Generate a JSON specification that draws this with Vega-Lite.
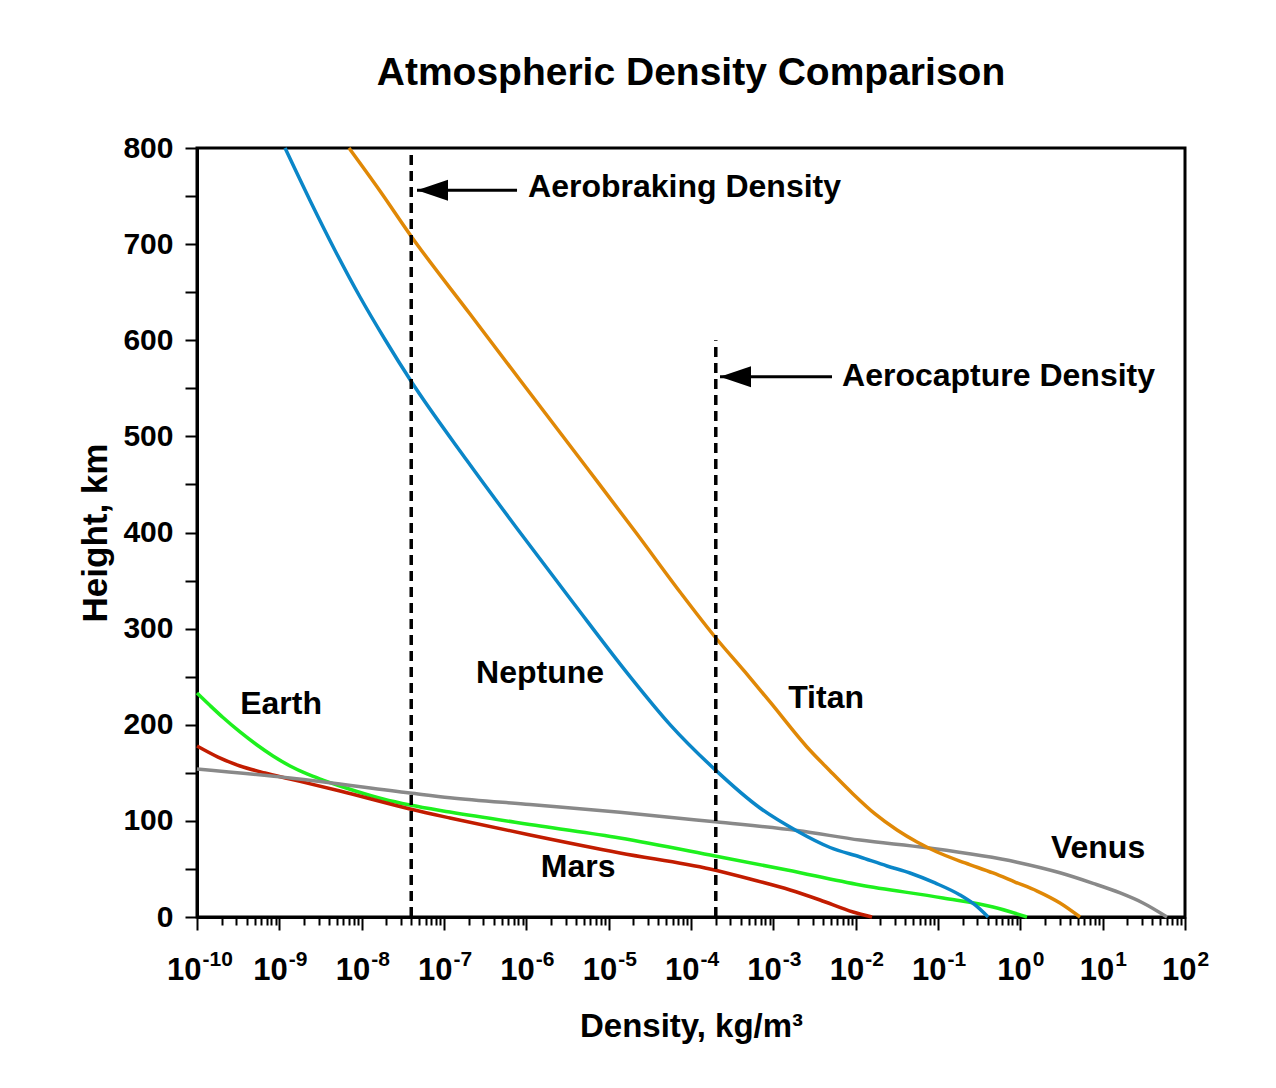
{
  "$schema": "https://vega.github.io/schema/vega-lite/v6.json",
  "width": 988,
  "height": 769,
  "autosize": {"type": "none"},
  "padding": {"left": 197, "top": 148, "right": 91, "bottom": 171},
  "background": "white",
  "config": {
    "font": "Liberation Sans",
    "view": {"stroke": "black", "strokeWidth": 3},
    "axis": {"grid": false, "domainColor": "black", "domainWidth": 3, "tickColor": "black", "tickWidth": 2, "labelFont": "Liberation Sans", "labelFontWeight": "bold", "labelColor": "black", "titleFont": "Liberation Sans", "titleFontWeight": "bold", "titleColor": "black"}
  },
  "title": {"text": "Atmospheric Density Comparison", "fontSize": 39, "font": "Liberation Sans", "fontWeight": "bold", "color": "black", "offset": 40, "anchor": "middle"},
  "resolve": {"axis": {"x": "independent"}},
  "datasets": {
    "curves": [
      {"planet": "Earth", "density": 1.0e-10, "height": 233},
      {"planet": "Earth", "density": 1.44e-10, "height": 220},
      {"planet": "Earth", "density": 2.07e-10, "height": 207.5},
      {"planet": "Earth", "density": 3.33e-10, "height": 192.5},
      {"planet": "Earth", "density": 5.36e-10, "height": 178.9},
      {"planet": "Earth", "density": 8.38e-10, "height": 167.5},
      {"planet": "Earth", "density": 1.35e-9, "height": 157.1},
      {"planet": "Earth", "density": 2.17e-9, "height": 148.8},
      {"planet": "Earth", "density": 3.39e-9, "height": 142.5},
      {"planet": "Earth", "density": 5.46e-9, "height": 136.3},
      {"planet": "Earth", "density": 8.77e-9, "height": 130.6},
      {"planet": "Earth", "density": 1.82e-8, "height": 122.8},
      {"planet": "Earth", "density": 3.86e-8, "height": 116.5},
      {"planet": "Earth", "density": 1.18e-7, "height": 109.2},
      {"planet": "Earth", "density": 1.47e-6, "height": 94.7},
      {"planet": "Earth", "density": 1.37e-5, "height": 82.2},
      {"planet": "Earth", "density": 1.96e-4, "height": 63.5},
      {"planet": "Earth", "density": 1.47e-3, "height": 48.9},
      {"planet": "Earth", "density": 1.13e-2, "height": 33.3},
      {"planet": "Earth", "density": 0.115, "height": 19.8},
      {"planet": "Earth", "density": 0.466, "height": 10.4},
      {"planet": "Earth", "density": 1.205, "height": 0},
      {"planet": "Mars", "density": 1.0e-10, "height": 177.9},
      {"planet": "Mars", "density": 1.80e-10, "height": 166.4},
      {"planet": "Mars", "density": 3.33e-10, "height": 157.1},
      {"planet": "Mars", "density": 6.70e-10, "height": 149.8},
      {"planet": "Mars", "density": 1.35e-9, "height": 143.6},
      {"planet": "Mars", "density": 5.46e-9, "height": 131.1},
      {"planet": "Mars", "density": 3.86e-8, "height": 112.4},
      {"planet": "Mars", "density": 1.18e-7, "height": 103},
      {"planet": "Mars", "density": 1.11e-6, "height": 85.3},
      {"planet": "Mars", "density": 1.37e-5, "height": 66.6},
      {"planet": "Mars", "density": 1.70e-4, "height": 49.9},
      {"planet": "Mars", "density": 5.21e-4, "height": 39.5},
      {"planet": "Mars", "density": 1.60e-3, "height": 28.1},
      {"planet": "Mars", "density": 3.69e-3, "height": 17.7},
      {"planet": "Mars", "density": 9.29e-3, "height": 5.2},
      {"planet": "Mars", "density": 1.58e-2, "height": 0},
      {"planet": "Venus", "density": 1.0e-10, "height": 154},
      {"planet": "Venus", "density": 1.35e-9, "height": 144.6},
      {"planet": "Venus", "density": 3.86e-8, "height": 129},
      {"planet": "Venus", "density": 1.18e-7, "height": 124},
      {"planet": "Venus", "density": 1.11e-6, "height": 117},
      {"planet": "Venus", "density": 1.37e-5, "height": 109},
      {"planet": "Venus", "density": 1.96e-4, "height": 99},
      {"planet": "Venus", "density": 1.95e-3, "height": 90},
      {"planet": "Venus", "density": 1.13e-2, "height": 80},
      {"planet": "Venus", "density": 7.36e-2, "height": 72},
      {"planet": "Venus", "density": 0.912, "height": 57},
      {"planet": "Venus", "density": 3.03, "height": 46},
      {"planet": "Venus", "density": 7.64, "height": 35},
      {"planet": "Venus", "density": 16.3, "height": 25},
      {"planet": "Venus", "density": 30.9, "height": 14.6},
      {"planet": "Venus", "density": 60.5, "height": 0},
      {"planet": "Neptune", "density": 1.172e-9, "height": 800},
      {"planet": "Neptune", "density": 2.36e-9, "height": 745.4},
      {"planet": "Neptune", "density": 4.75e-9, "height": 693.4},
      {"planet": "Neptune", "density": 9.55e-9, "height": 645},
      {"planet": "Neptune", "density": 1.92e-8, "height": 600.8},
      {"planet": "Neptune", "density": 3.97e-8, "height": 557.6},
      {"planet": "Neptune", "density": 1.90e-7, "height": 474.9},
      {"planet": "Neptune", "density": 7.71e-7, "height": 404.2},
      {"planet": "Neptune", "density": 3.69e-6, "height": 327.2},
      {"planet": "Neptune", "density": 1.82e-5, "height": 250.1},
      {"planet": "Neptune", "density": 5.56e-5, "height": 200.2},
      {"planet": "Neptune", "density": 1.96e-4, "height": 153.3},
      {"planet": "Neptune", "density": 6.89e-4, "height": 113.4},
      {"planet": "Neptune", "density": 1.94e-3, "height": 89.5},
      {"planet": "Neptune", "density": 4.89e-3, "height": 72.3},
      {"planet": "Neptune", "density": 1.13e-2, "height": 62.4},
      {"planet": "Neptune", "density": 2.40e-2, "height": 53.1},
      {"planet": "Neptune", "density": 4.57e-2, "height": 45.8},
      {"planet": "Neptune", "density": 9.21e-2, "height": 35.4},
      {"planet": "Neptune", "density": 0.185, "height": 22.9},
      {"planet": "Neptune", "density": 0.282, "height": 12.5},
      {"planet": "Neptune", "density": 0.406, "height": 0},
      {"planet": "Titan", "density": 7.01e-9, "height": 800},
      {"planet": "Titan", "density": 1.67e-8, "height": 755.3},
      {"planet": "Titan", "density": 3.97e-8, "height": 708.5},
      {"planet": "Titan", "density": 2.07e-7, "height": 627.3},
      {"planet": "Titan", "density": 8.38e-7, "height": 558.6},
      {"planet": "Titan", "density": 5.46e-6, "height": 467.1},
      {"planet": "Titan", "density": 2.21e-5, "height": 398.4},
      {"planet": "Titan", "density": 7.36e-5, "height": 338.1},
      {"planet": "Titan", "density": 1.96e-4, "height": 291.3},
      {"planet": "Titan", "density": 4.53e-4, "height": 254.9},
      {"planet": "Titan", "density": 9.12e-4, "height": 223.7},
      {"planet": "Titan", "density": 2.56e-3, "height": 176.9},
      {"planet": "Titan", "density": 4.89e-3, "height": 151.9},
      {"planet": "Titan", "density": 9.29e-3, "height": 128},
      {"planet": "Titan", "density": 1.72e-2, "height": 107.2},
      {"planet": "Titan", "density": 3.18e-2, "height": 90.5},
      {"planet": "Titan", "density": 5.56e-2, "height": 78},
      {"planet": "Titan", "density": 9.73e-2, "height": 67.6},
      {"planet": "Titan", "density": 0.213, "height": 56.2},
      {"planet": "Titan", "density": 0.466, "height": 45.8},
      {"planet": "Titan", "density": 0.863, "height": 36.4},
      {"planet": "Titan", "density": 1.60, "height": 27},
      {"planet": "Titan", "density": 3.03, "height": 14.6},
      {"planet": "Titan", "density": 5.31, "height": 0}
    ],
    "limits": [
      {"name": "Aerobraking", "density": 4e-8, "height": 0, "height2": 800},
      {"name": "Aerocapture", "density": 2e-4, "height": 0, "height2": 600}
    ],
    "arrows": [
      {"name": "Aerobraking", "density": 4.7e-8, "density2": 7.71e-7, "height": 756},
      {"name": "Aerocapture", "density": 2.25e-4, "density2": 5.16e-3, "height": 562}
    ],
    "notes": [
      {"text": "Aerobraking Density", "density": 1.05e-6, "height": 759},
      {"text": "Aerocapture Density", "density": 6.83e-3, "height": 563}
    ],
    "planetLabels": [
      {"text": "Earth", "density": 1.05e-9, "height": 221.6},
      {"text": "Neptune", "density": 1.47e-6, "height": 253.8},
      {"text": "Titan", "density": 4.37e-3, "height": 227.8},
      {"text": "Mars", "density": 4.25e-6, "height": 52},
      {"text": "Venus", "density": 8.79, "height": 71.8}
    ]
  },
  "layer": [
    {
      "data": {"name": "curves"},
      "mark": {"type": "line", "strokeWidth": 3.5, "interpolate": "monotone"},
      "encoding": {
        "x": {"field": "density", "type": "quantitative",
          "scale": {"type": "log", "domain": [1e-10, 100], "nice": false},
          "axis": {"values": [1e-10, 1e-9, 1e-8, 1e-7, 1e-6, 1e-5, 1e-4, 1e-3, 1e-2, 1e-1, 1, 10, 100],
            "labelExpr": "'10'",
            "labelAlign": "right",
            "labelOffset": {"condition": [{"test": "datum.value < 5e-10", "value": 4}, {"test": "datum.value < 0.5", "value": 8}], "value": 11},
            "orient": "bottom", "tickSize": 13, "labelFontSize": 31, "labelPadding": 25, "labelFlush": false, "labelOverlap": false,
            "title": "Density, kg/m³", "titleFontSize": 33, "titlePadding": 25}},
        "y": {"field": "height", "type": "quantitative",
          "scale": {"domain": [0, 800], "nice": false},
          "axis": {"values": [0, 50, 100, 150, 200, 250, 300, 350, 400, 450, 500, 550, 600, 650, 700, 750, 800],
            "labelExpr": "datum.value % 100 === 0 ? datum.label : ''",
            "tickSize": 12, "labelFontSize": 30, "labelPadding": 12, "labelFlush": false, "labelOverlap": false,
            "title": "Height, km", "titleFontSize": 35, "titlePadding": 9}},
        "color": {"field": "planet", "type": "nominal", "legend": null,
          "scale": {"domain": ["Earth", "Mars", "Venus", "Neptune", "Titan"], "range": ["#1ef01e", "#c21c00", "#898989", "#0a86c8", "#e08806"]}}
      }
    },
    {
      "data": {"name": "limits"},
      "mark": {"type": "rule", "strokeWidth": 3.5, "strokeDash": [10, 6], "color": "black"},
      "encoding": {
        "x": {"field": "density", "type": "quantitative",
          "axis": {"values": [2e-10,3e-10,4e-10,5e-10,6e-10,7e-10,8e-10,9e-10,2e-9,3e-9,4e-9,5e-9,6e-9,7e-9,8e-9,9e-9,2e-8,3e-8,4e-8,5e-8,6e-8,7e-8,8e-8,9e-8,2e-7,3e-7,4e-7,5e-7,6e-7,7e-7,8e-7,9e-7,2e-6,3e-6,4e-6,5e-6,6e-6,7e-6,8e-6,9e-6,2e-5,3e-5,4e-5,5e-5,6e-5,7e-5,8e-5,9e-5,2e-4,3e-4,4e-4,5e-4,6e-4,7e-4,8e-4,9e-4,2e-3,3e-3,4e-3,5e-3,6e-3,7e-3,8e-3,9e-3,0.02,0.03,0.04,0.05,0.06,0.07,0.08,0.09,0.2,0.3,0.4,0.5,0.6,0.7,0.8,0.9,2,3,4,5,6,7,8,9,20,30,40,50,60,70,80,90],
            "orient": "bottom", "domain": false, "labels": false, "title": null, "tickSize": 8}},
        "y": {"field": "height", "type": "quantitative"},
        "y2": {"field": "height2"}
      }
    },
    {
      "data": {"name": "arrows"},
      "mark": {"type": "rule", "strokeWidth": 3, "color": "black"},
      "encoding": {
        "x": {"field": "density", "type": "quantitative",
          "axis": {"values": [1e-10, 1e-9, 1e-8, 1e-7, 1e-6, 1e-5, 1e-4, 1e-3, 1e-2, 1e-1, 1, 10, 100],
            "labelExpr": "['-10','-9','-8','-7','-6','-5','-4','-3','-2','-1','0','1','2'][round(log(datum.value)/LN10)+10]",
            "labelAlign": "left",
            "labelOffset": {"condition": [{"test": "datum.value < 5e-10", "value": 5}, {"test": "datum.value < 0.5", "value": 9}], "value": 12},
            "orient": "bottom", "domain": false, "ticks": false, "tickSize": 0, "labelFontSize": 21, "labelPadding": 31, "labelFlush": false, "labelOverlap": false, "title": null}},
        "x2": {"field": "density2"},
        "y": {"field": "height", "type": "quantitative"}
      }
    },
    {
      "data": {"name": "arrows"},
      "mark": {"type": "point", "shape": "M 0 0 L 2 -0.68 L 2 0.68 Z", "size": 961, "filled": true, "color": "black", "opacity": 1},
      "encoding": {
        "x": {"field": "density", "type": "quantitative", "axis": null},
        "y": {"field": "height", "type": "quantitative"}
      }
    },
    {
      "data": {"name": "notes"},
      "mark": {"type": "text", "align": "left", "baseline": "middle", "fontSize": 32, "fontWeight": "bold", "font": "Liberation Sans", "color": "black"},
      "encoding": {
        "x": {"field": "density", "type": "quantitative", "axis": null},
        "y": {"field": "height", "type": "quantitative"},
        "text": {"field": "text"}
      }
    },
    {
      "data": {"name": "planetLabels"},
      "mark": {"type": "text", "align": "center", "baseline": "middle", "fontSize": 32, "fontWeight": "bold", "font": "Liberation Sans", "color": "black"},
      "encoding": {
        "x": {"field": "density", "type": "quantitative", "axis": null},
        "y": {"field": "height", "type": "quantitative"},
        "text": {"field": "text"}
      }
    }
  ]
}
